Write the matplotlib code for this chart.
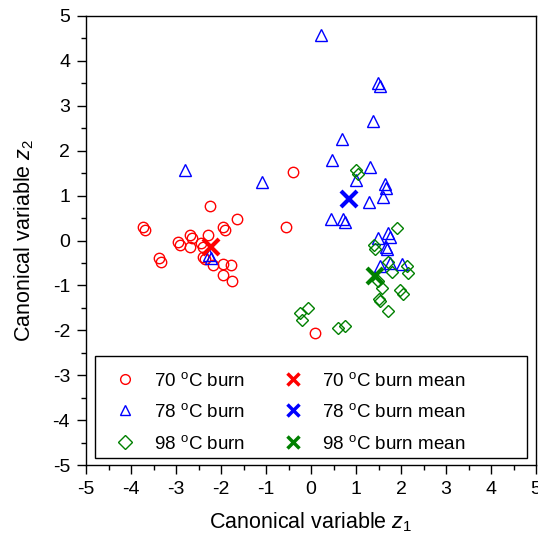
import matplotlib
matplotlib.use("Agg")
import matplotlib.pyplot as plt
from matplotlib.lines import Line2D
from matplotlib.patches import Rectangle
from matplotlib.ticker import MultipleLocator, FuncFormatter

plt.rcParams['font.family'] = ['Liberation Sans', 'DejaVu Sans']
plt.rcParams['mathtext.fontset'] = 'custom'
plt.rcParams['mathtext.rm'] = 'Liberation Sans'
plt.rcParams['mathtext.it'] = 'Liberation Sans:italic'

# 70 C burn
z1_70 = [-3.74, -3.70, -3.37, -3.33, -2.95, -2.91, -2.69, -2.65, -2.70, -2.44, -2.41,
         -2.28, -2.24, -2.41, -2.36, -2.18, -1.95, -1.78, -1.96, -1.75, -1.95, -1.91,
         -1.65, -0.56, -0.39, 0.09]
z2_70 = [0.29, 0.23, -0.40, -0.47, -0.04, -0.11, 0.13, 0.06, -0.14, -0.05, -0.14,
         0.13, 0.76, -0.37, -0.42, -0.55, -0.52, -0.55, -0.76, -0.90, 0.30, 0.24,
         0.47, 0.29, 1.53, -2.05]
# 78 C burn
z1_78 = [0.22, 1.48, 1.53, 1.37, 0.69, 0.47, 1.30, 1.01, 1.64, 1.67, 1.61, 1.28,
         0.44, 0.72, 0.76, 1.48, 1.72, 1.75, 1.67, 1.69, 1.53, 1.76, 2.02,
         -2.79, -1.10, -2.26, -2.23]
z2_78 = [4.58, 3.50, 3.43, 2.67, 2.27, 1.80, 1.64, 1.34, 1.25, 1.18, 0.97, 0.86,
         0.47, 0.48, 0.42, 0.06, 0.16, 0.08, -0.14, -0.20, -0.57, -0.50, -0.52,
         1.56, 1.30, -0.33, -0.39]
# 98 C burn
z1_98 = [1.01, 1.04, 1.90, 1.39, 1.42, 1.72, 1.81, 2.13, 2.16, 1.48, 1.58, 1.98,
         2.05, 1.50, 1.53, 1.70, -0.06, -0.24, -0.19, 0.61, 0.76]
z2_98 = [1.56, 1.49, 0.27, -0.11, -0.19, -0.48, -0.70, -0.57, -0.72, -0.90, -1.05,
         -1.11, -1.20, -1.30, -1.35, -1.57, -1.51, -1.61, -1.76, -1.94, -1.90]
# group means
mean_z1 = [-2.23, 0.84, 1.42]
mean_z2 = [-0.14, 0.93, -0.79]

labels = ['70 $^{\\mathrm{o}}$C burn', '78 $^{\\mathrm{o}}$C burn', '98 $^{\\mathrm{o}}$C burn']
mean_labels = [l + ' mean' for l in labels]
colors = ['#ff0000', '#0000ff', '#008000']
markers = ['o', '^', 'D']
msizes = [7.5, 8.5, 6.5]

fig = plt.figure(figsize=(5.38, 5.39), dpi=100)
ax = fig.add_axes([86/538, 74/539, 450/538, 449/539])

groups = [(z1_70, z2_70), (z1_78, z2_78), (z1_98, z2_98)]
for (x, y), c, m, s in zip(groups, colors, markers, msizes):
    ax.plot(x, y, linestyle='none', marker=m, ms=s, mfc='none', mec=c, mew=1.0)
for i, c in enumerate(colors):
    ax.plot([mean_z1[i]], [mean_z2[i]], linestyle='none', marker='x', ms=11, mec=c, mew=3)

ax.set_xlim(-5, 5)
ax.set_ylim(-5, 5)
ax.xaxis.set_major_locator(MultipleLocator(1))
ax.yaxis.set_major_locator(MultipleLocator(1))
ax.xaxis.set_minor_locator(MultipleLocator(0.5))
ax.yaxis.set_minor_locator(MultipleLocator(0.5))
ax.tick_params(which='major', direction='out', length=6.5, width=1, labelsize=14, pad=5)
ax.tick_params(which='minor', direction='out', length=3.6, width=1)
fmt = FuncFormatter(lambda v, p: f'{int(round(v))}')
ax.xaxis.set_major_formatter(fmt)
ax.yaxis.set_major_formatter(fmt)
for sp in ax.spines.values():
    sp.set_linewidth(1)

ax.set_xlabel('Canonical variable $z_1$', fontsize=15.5, labelpad=9)
ax.set_ylabel('Canonical variable $z_2$', fontsize=15.5, labelpad=12)

# legend frame
ax.add_patch(Rectangle((0.02, 0.0156), 0.96, 0.2267, transform=ax.transAxes,
                       facecolor='white', edgecolor='black', linewidth=1, zorder=4))

handles = []
for c, m in zip(colors, markers):
    handles.append(Line2D([], [], linestyle='none', marker=m, ms=7, mfc='none', mec=c, mew=1.0))
mhandles = []
for c in colors:
    mhandles.append(Line2D([], [], linestyle='none', marker='x', ms=8, mec=c, mew=2.5))
leg = ax.legend(handles + mhandles, labels + mean_labels, ncol=2, loc='center left',
                bbox_to_anchor=(0.0544, 0.118), borderaxespad=0, borderpad=0,
                fontsize=13.5, frameon=False,
                handlelength=1.5, handletextpad=0.8, labelspacing=0.72,
                columnspacing=1.8)
leg.set_zorder(5)

fig.savefig('out.png', dpi=100)
